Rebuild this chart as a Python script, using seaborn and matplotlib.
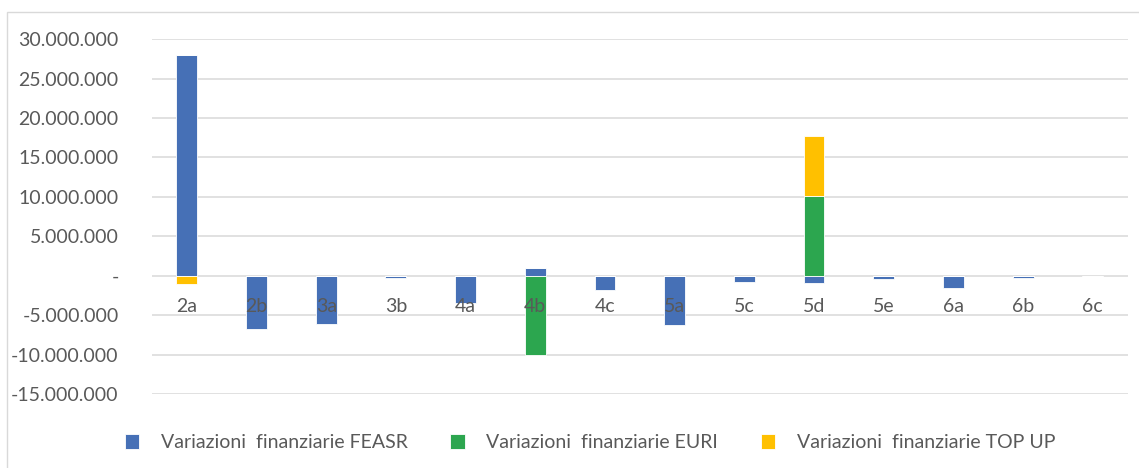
import numpy as np
import pandas as pd
import seaborn as sns
import matplotlib.pyplot as plt
from matplotlib.patches import Rectangle
from matplotlib.ticker import FuncFormatter

# -------------------- data --------------------
categories = ["2a", "2b", "3a", "3b", "4a", "4b", "4c", "5a", "5c", "5d", "5e", "6a", "6b", "6c"]
feasr = [28.0e6, -6.7e6, -6.1e6, -0.35e6, -3.5e6, 1.0e6, -1.8e6, -6.3e6, -0.8e6, -0.9e6, -0.4e6, -1.5e6, -0.3e6, -0.05e6]
euri = [0, 0, 0, 0, 0, -10.1e6, 0, 0, 0, 10.1e6, 0, 0, 0, 0]
topup = [-1.0e6, 0, 0, 0, 0, 0, 0, 0, 0, 7.6e6, 0, 0, 0, 0]
series_names = ["Variazioni  finanziarie FEASR", "Variazioni  finanziarie EURI", "Variazioni  finanziarie TOP UP"]
yticks = [-15e6, -10e6, -5e6, 0, 5e6, 10e6, 15e6, 20e6, 25e6, 30e6]

colors = ["#4670B6", "#2CA64F", "#FFC000"]
grey = "#595959"

# -------------------- style --------------------
sns.set_theme(style="white")
plt.rcParams["font.family"] = ["Lato", "DejaVu Sans"]

fig = plt.figure(figsize=(11.39, 4.68), dpi=100)
ax = fig.add_axes([0.1335, 0.158, 0.8565, 0.7585])

# stacked bars, excel style: positives stack up, negatives stack down
pos_base = np.zeros(len(categories))
neg_base = np.zeros(len(categories))
for vals, col, name in zip([feasr, euri, topup], colors, series_names):
    v = np.array(vals, dtype=float)
    bottom = np.where(v >= 0, pos_base, neg_base)
    df = pd.DataFrame({"cat": categories, "val": v})
    sns.barplot(data=df, x="cat", y="val", bottom=bottom, color=col, saturation=1,
                width=0.3, ax=ax, label=name, edgecolor="white", linewidth=0.6, zorder=3)
    pos_base += np.where(v > 0, v, 0)
    neg_base += np.where(v < 0, v, 0)

# axes
ax.set_ylim(-15e6, 30e6)
ax.set_xlim(-0.5, len(categories) - 0.5)
ax.set_yticks(yticks)

def fmt(v, pos):
    if v == 0:
        return "-"
    s = f"{abs(v):,.0f}".replace(",", ".")
    return ("-" if v < 0 else "") + s

ax.yaxis.set_major_formatter(FuncFormatter(fmt))
ax.grid(axis="y", color="#D9D9D9", linewidth=1.1, zorder=0)
ax.set_axisbelow(True)
for s in ["top", "right", "left"]:
    ax.spines[s].set_visible(False)
ax.spines["bottom"].set_position(("data", 0))
ax.spines["bottom"].set_visible(False)
ax.xaxis.set_zorder(5)  # category labels sit on top of the bars, like excel
ax.tick_params(axis="x", length=0, pad=16, labelsize=14, labelcolor=grey)
ax.tick_params(axis="y", length=0, pad=24, labelsize=14, labelcolor=grey)
ax.set_xlabel("")
ax.set_ylabel("")

# legend
ax.legend(loc="center", bbox_to_anchor=(0.518, 0.054), bbox_transform=fig.transFigure,
          ncol=3, frameon=False, fontsize=14, labelcolor=grey, handlelength=0.75,
          handleheight=0.75, columnspacing=2.2, handletextpad=1.1)

# chart frame
fig.patches.append(Rectangle((7 / 1139, -0.1), 1.2, 0.974 + 0.1, transform=fig.transFigure,
                             fill=False, edgecolor="#D9D9D9", linewidth=1.0))

fig.savefig("out.png", dpi=100)
